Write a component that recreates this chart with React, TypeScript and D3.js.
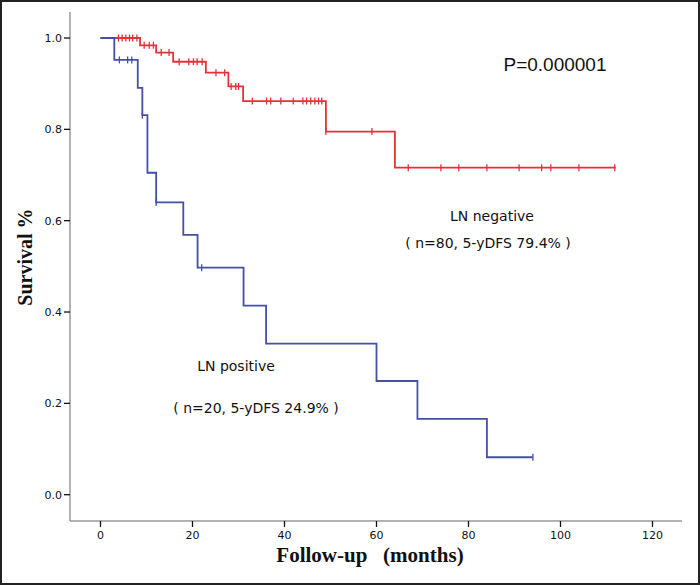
import React from "react";
import * as d3 from "d3";

// LN negative (red): event times and survival after each event
const negEventTimes = [0, 8.6, 12.1, 15.8, 22.9, 27.8, 31, 49, 64, 112];
const negSurvival = [1.0, 0.984, 0.968, 0.948, 0.924, 0.894, 0.862, 0.795, 0.716, 0.716];
const negCensored = [3.9, 4.7, 5.5, 6.3, 7.0, 7.9, 9.5, 10.6, 11.5, 13.2, 14.9, 17.1, 19.2, 20.2, 21, 22.1, 25.1, 27, 28.4, 29.4, 30, 33, 36.1, 37, 39.2, 41.9, 44, 44.8, 45.7, 46.6, 47.4, 48.1, 49, 59, 66.9, 74, 77.9, 84, 91, 95.9, 97.9, 104, 111.8];

// LN positive (blue)
const posEventTimes = [0, 3, 8.1, 9.1, 10.2, 12.1, 18, 21.1, 31.1, 36, 60, 68.9, 84, 94];
const posSurvival = [1.0, 0.952, 0.891, 0.831, 0.705, 0.64, 0.569, 0.497, 0.414, 0.331, 0.249, 0.166, 0.082, 0.082];
const posCensored = [4.1, 5.9, 6.8, 9.1, 12.1, 22, 94];

const xTicks = [0, 20, 40, 60, 80, 100, 120];
const yTicks = [0, 0.2, 0.4, 0.6, 0.8, 1.0];

const W = 700;
const H = 585;

function stepAt(times: number[], surv: number[], t: number) {
  let s = surv[0];
  for (let i = 0; i < times.length; i++) {
    if (times[i] <= t) s = surv[i];
  }
  return s;
}

export default function App() {
  const x = d3.scaleLinear().domain([0, 120]).range([100.5, 652.5]);
  const y = d3.scaleLinear().domain([0, 1]).range([494.7, 38]);
  const axisX = 70;
  const axisY = 521;

  const line = d3
    .line<[number, number]>()
    .x((d) => x(d[0]))
    .y((d) => y(d[1]))
    .curve(d3.curveStepAfter);

  const negPts: [number, number][] = negEventTimes.map((t, i) => [t, negSurvival[i]]);
  const posPts: [number, number][] = posEventTimes.map((t, i) => [t, posSurvival[i]]);

  const red = "#e5323a";
  const blue = "#4350a5";
  const tickFont = "'DejaVu Sans', Verdana, sans-serif";
  const labelFont = "'DejaVu Sans', Verdana, sans-serif";

  return (
    <svg
      width={W}
      height={H}
      style={{ position: "fixed", left: 0, top: 0, background: "#fff" }}
    >
      <rect x={0} y={0} width={W} height={H} fill="#fff" />
      <rect x={1} y={1} width={W - 2} height={H - 2} fill="none" stroke="#222" strokeWidth={2} />

      {/* axes */}
      <line x1={axisX} x2={axisX} y1={12} y2={axisY} stroke="#999" strokeWidth={1.5} />
      <line x1={axisX} x2={682} y1={axisY} y2={axisY} stroke="#999" strokeWidth={1.5} />

      {yTicks.map((v) => (
        <g key={"y" + v}>
          <line x1={axisX - 6} x2={axisX} y1={y(v)} y2={y(v)} stroke="#111" strokeWidth={1.3} />
          <text
            x={axisX - 8}
            y={y(v) + 4}
            textAnchor="end"
            fontFamily={tickFont}
            fontSize={11}
            fill="#111"
          >
            {v.toFixed(1)}
          </text>
        </g>
      ))}

      {xTicks.map((v) => (
        <g key={"x" + v}>
          <line x1={x(v)} x2={x(v)} y1={axisY} y2={axisY + 6} stroke="#111" strokeWidth={1.3} />
          <text
            x={x(v)}
            y={axisY + 18}
            textAnchor="middle"
            fontFamily={tickFont}
            fontSize={11}
            fill="#111"
          >
            {v}
          </text>
        </g>
      ))}

      {/* axis titles */}
      <text
        x={370}
        y={562}
        textAnchor="middle"
        fontFamily="'Liberation Serif', 'Times New Roman', serif"
        fontWeight="bold"
        fontSize={21}
        fill="#111"
        style={{ whiteSpace: "pre" }}
      >
        {"Follow-up   (months)"}
      </text>
      <text
        transform={`translate(32, 257) rotate(-90)`}
        textAnchor="middle"
        fontFamily="'Liberation Serif', 'Times New Roman', serif"
        fontWeight="bold"
        fontSize={20}
        fill="#111"
      >
        Survival %
      </text>

      {/* curves */}
      <path d={line(negPts) || ""} fill="none" stroke={red} strokeWidth={1.8} />
      {negCensored.map((t, i) => {
        const s = stepAt(negEventTimes, negSurvival, t);
        return (
          <line key={"nc" + i} x1={x(t)} x2={x(t)} y1={y(s) - 3.5} y2={y(s) + 3.5} stroke={red} strokeWidth={1.3} />
        );
      })}

      <path d={line(posPts) || ""} fill="none" stroke={blue} strokeWidth={1.8} />
      {posCensored.map((t, i) => {
        const s = stepAt(posEventTimes, posSurvival, t);
        return (
          <line key={"pc" + i} x1={x(t)} x2={x(t)} y1={y(s) - 3.5} y2={y(s) + 3.5} stroke={blue} strokeWidth={1.3} />
        );
      })}

      {/* annotations */}
      <text x={555} y={71} textAnchor="middle" fontFamily="'Liberation Sans', Arial, sans-serif" fontSize={19} fill="#111">
        P=0.000001
      </text>
      <text x={492} y={221} textAnchor="middle" fontFamily={labelFont} fontSize={14} fill="#111">
        LN negative
      </text>
      <text x={488} y={248} textAnchor="middle" fontFamily={labelFont} fontSize={14} fill="#111" style={{ whiteSpace: "pre" }}>
        {"( n=80, 5-yDFS 79.4% )"}
      </text>
      <text x={236} y={371} textAnchor="middle" fontFamily={labelFont} fontSize={14} fill="#111">
        LN positive
      </text>
      <text x={256} y={413} textAnchor="middle" fontFamily={labelFont} fontSize={14} fill="#111" style={{ whiteSpace: "pre" }}>
        {"( n=20, 5-yDFS 24.9% )"}
      </text>
    </svg>
  );
}
